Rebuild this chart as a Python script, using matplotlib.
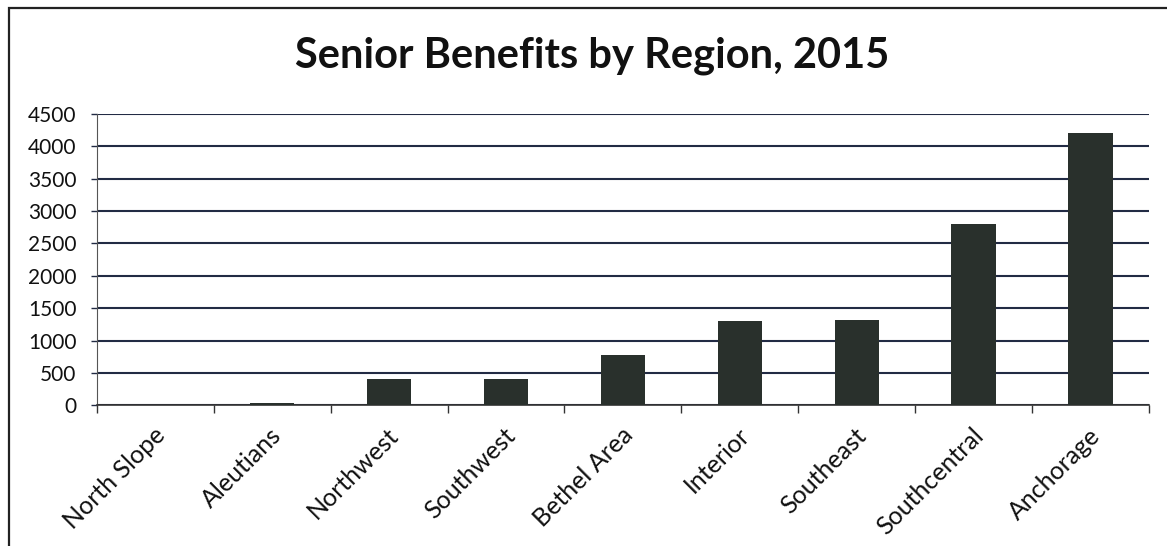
import matplotlib.pyplot as plt
import numpy as np
from matplotlib.patches import Rectangle
from matplotlib.transforms import ScaledTranslation

regions = ['North Slope', 'Aleutians', 'Northwest', 'Southwest', 'Bethel Area',
           'Interior', 'Southeast', 'Southcentral', 'Anchorage']
benefits = [10, 40, 405, 410, 775, 1295, 1315, 2795, 4205]
y_ticks = [0, 500, 1000, 1500, 2000, 2500, 3000, 3500, 4000, 4500]

plt.rcParams['font.family'] = ['Lato', 'DejaVu Sans']

bar_color = '#29302c'
grid_color = '#222b44'
text_color = '#111111'

fig = plt.figure(figsize=(11.67, 5.46), dpi=100)
ax = fig.add_axes([0.0829, 0.2577, 0.9017, 0.5335])

x = np.arange(len(regions))
ax.bar(x, benefits, width=0.38, color=bar_color, zorder=3)

ax.set_xlim(-0.5, len(regions) - 0.5)
ax.set_ylim(0, 4500)
ax.set_yticks(y_ticks)
ax.set_yticklabels([str(v) for v in y_ticks], fontsize=15, color=text_color)
ax.yaxis.grid(True, color=grid_color, linewidth=1.5, zorder=0)
ax.tick_params(axis='y', length=4.5, width=1, color=grid_color, pad=10)

# category labels at centres, tick marks at the boundaries (Excel style)
ax.set_xticks(x)
ax.set_xticklabels(regions, fontsize=18, rotation=45, ha='right', va='center',
                   rotation_mode='anchor', color=text_color)
ax.tick_params(axis='x', length=0, pad=19)
shift = ScaledTranslation(6 / 100, 0, fig.dpi_scale_trans)
for lbl in ax.get_xticklabels():
    lbl.set_transform(lbl.get_transform() + shift)
ax.set_xticks(np.arange(len(regions) + 1) - 0.5, minor=True)
ax.tick_params(axis='x', which='minor', length=6, width=1, color='#333333')

for side in ['top', 'right']:
    ax.spines[side].set_visible(False)
ax.spines['left'].set_color('#555555')
ax.spines['bottom'].set_color('#333333')
ax.spines['bottom'].set_linewidth(1.2)

fig.text(0.507, 0.897, 'Senior Benefits by Region, 2015', ha='center', va='center',
         fontsize=30, fontweight='bold', color=text_color)

fig.patches.append(Rectangle((9 / 1167, -0.05), 1.2, 1 - 8 / 546 + 0.05,
                             transform=fig.transFigure, fill=False,
                             edgecolor='#222222', linewidth=1.6))

fig.savefig('out.png', dpi=100)
